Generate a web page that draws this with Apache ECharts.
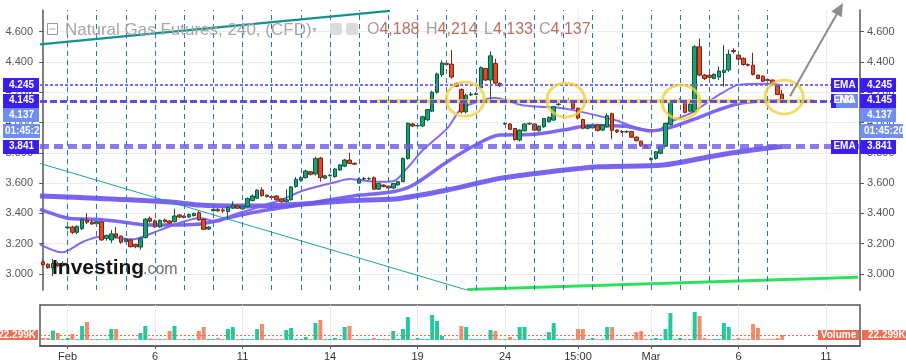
<!DOCTYPE html>
<html><head><meta charset="utf-8">
<script src="https://cdn.jsdelivr.net/npm/echarts@6/dist/echarts.min.js"></script>
<style>html,body{margin:0;padding:0;background:#fff}#c{width:906px;height:361px}</style>
</head><body><div id="c"></div>
<script>
// ---------- data (4h bars, index 0..152) ----------
const barOpen = [
3.080,3.065,3.040,3.068,3.055,3.305,3.310,3.275,3.300,3.356,
3.343,3.332,3.345,3.235,3.225,3.265,3.250,3.213,3.225,3.195,
3.178,3.240,3.368,3.350,3.310,3.357,3.350,3.345,3.390,3.382,
3.376,3.385,3.405,3.360,3.297,3.418,3.425,3.423,3.412,3.435,
3.450,3.430,3.445,3.485,3.500,3.555,3.520,3.510,3.515,3.496,
3.478,3.490,3.578,3.618,3.636,3.675,3.660,3.765,3.632,3.648,
3.643,3.687,3.712,3.752,3.731,3.600,3.627,3.628,3.635,3.560,
3.587,3.580,3.568,3.588,3.610,3.762,3.990,3.978,3.977,4.018,
4.075,4.200,4.315,4.390,4.385,4.258,4.218,4.070,4.182,4.185,
4.230,4.357,4.280,4.390,4.258,3.990,3.990,3.960,3.884,3.945,
3.990,3.990,3.945,3.972,4.005,4.016,4.118,4.135,4.140,4.130,
4.093,4.020,3.962,3.965,3.983,3.950,3.972,4.058,3.950,3.940,
3.938,3.940,3.903,3.877,3.850,3.755,3.762,3.797,3.844,3.985,
4.138,4.140,4.137,4.075,4.070,4.500,4.313,4.312,4.290,4.300,
4.330,4.346,4.475,4.445,4.423,4.382,4.378,4.313,4.306,4.283,
4.280,4.242,4.188];
const barClose = [
3.062,3.042,3.070,3.055,3.070,3.310,3.275,3.315,3.360,3.342,
3.330,3.345,3.225,3.255,3.265,3.245,3.210,3.230,3.180,3.180,
3.235,3.362,3.348,3.312,3.355,3.345,3.336,3.383,3.376,3.372,
3.393,3.400,3.357,3.295,3.310,3.425,3.417,3.417,3.440,3.455,
3.435,3.447,3.498,3.515,3.553,3.518,3.512,3.506,3.490,3.478,
3.490,3.575,3.625,3.636,3.680,3.658,3.762,3.637,3.648,3.652,
3.693,3.720,3.752,3.730,3.725,3.625,3.630,3.630,3.560,3.598,
3.578,3.568,3.597,3.610,3.762,3.995,3.977,3.980,4.038,4.085,
4.200,4.320,4.393,4.383,4.300,4.240,4.070,4.180,4.187,4.190,
4.362,4.280,4.440,4.260,4.242,3.995,3.955,3.888,3.950,3.990,
3.994,3.950,3.976,4.027,4.034,4.104,4.122,4.140,4.137,4.093,
4.030,3.962,3.976,3.980,3.948,3.985,4.045,3.948,3.938,3.938,
3.940,3.903,3.880,3.846,3.830,3.763,3.807,3.843,3.994,4.130,
4.142,4.143,4.067,4.120,4.500,4.313,4.290,4.298,4.318,4.340,
4.345,4.450,4.468,4.418,4.383,4.378,4.317,4.290,4.273,4.278,
4.258,4.185,4.137];
const barLow = [
3.055,3.035,2.985,3.045,3.050,3.295,3.265,3.263,3.290,3.330,
3.325,3.326,3.220,3.220,3.205,3.235,3.200,3.210,3.175,3.170,
3.160,3.235,3.340,3.305,3.305,3.340,3.330,3.340,3.370,3.368,
3.370,3.380,3.350,3.290,3.290,3.413,3.410,3.405,3.360,3.430,
3.430,3.425,3.440,3.480,3.495,3.510,3.505,3.500,3.485,3.470,
3.472,3.485,3.570,3.610,3.630,3.650,3.650,3.610,3.625,3.645,
3.635,3.680,3.705,3.725,3.720,3.595,3.620,3.620,3.555,3.555,
3.572,3.560,3.560,3.583,3.605,3.755,3.970,3.960,3.970,4.010,
4.070,4.190,4.300,4.375,4.290,4.235,4.060,4.060,4.175,4.180,
4.225,4.275,4.150,4.250,4.235,3.985,3.950,3.880,3.875,3.940,
3.985,3.945,3.940,3.965,4.000,4.010,4.110,4.130,4.130,4.090,
4.020,3.955,3.955,3.960,3.940,3.945,3.965,3.890,3.930,3.930,
3.930,3.900,3.875,3.840,3.825,3.750,3.755,3.790,3.840,3.980,
4.130,4.135,4.060,4.070,4.065,4.305,4.280,4.290,4.285,4.280,
4.236,4.335,4.455,4.410,4.375,4.370,4.310,4.285,4.268,4.270,
4.250,4.180,4.133];
const barHigh = [
3.095,3.070,3.100,3.080,3.085,3.328,3.318,3.320,3.365,3.400,
3.356,3.350,3.348,3.260,3.290,3.310,3.255,3.235,3.230,3.200,
3.245,3.370,3.380,3.360,3.360,3.365,3.355,3.430,3.395,3.388,
3.400,3.405,3.420,3.365,3.315,3.430,3.435,3.437,3.445,3.480,
3.455,3.450,3.505,3.525,3.560,3.572,3.525,3.520,3.520,3.500,
3.560,3.580,3.640,3.645,3.690,3.680,3.775,3.772,3.655,3.660,
3.700,3.725,3.760,3.800,3.735,3.635,3.640,3.638,3.645,3.600,
3.592,3.585,3.600,3.615,3.770,4.000,4.000,3.990,4.045,4.090,
4.210,4.330,4.410,4.400,4.478,4.265,4.225,4.190,4.200,4.200,
4.370,4.360,4.470,4.420,4.265,4.000,3.995,3.965,3.955,3.995,
4.000,3.995,3.980,4.030,4.040,4.110,4.135,4.155,4.160,4.150,
4.100,4.025,3.985,3.990,3.990,3.990,4.060,4.065,3.955,3.950,
3.948,3.945,3.910,3.880,3.855,3.770,3.810,3.850,4.000,4.140,
4.155,4.160,4.140,4.140,4.510,4.555,4.320,4.330,4.325,4.370,
4.510,4.480,4.490,4.455,4.430,4.390,4.460,4.315,4.310,4.290,
4.285,4.245,4.214];
// volume in thousands
const volumeK = [
8.9,8.9,41.5,31.2,4.5,8.9,26.8,4.5,62.4,80.3,
4.5,4.5,4.5,4.5,49.1,49.1,4.5,4.5,4.5,4.5,
31.2,62.4,6.7,4.5,4.5,4.5,40.1,62.4,4.5,4.5,
4.5,4.5,40.1,58.0,4.5,4.5,8.9,4.5,49.1,58.0,
4.5,4.5,4.5,4.5,49.1,71.4,4.5,4.5,4.5,4.5,
44.6,53.5,4.5,4.5,13.4,4.5,75.8,89.2,4.5,4.5,
8.9,4.5,58.0,62.4,4.5,4.5,4.5,4.5,8.9,4.5,
4.5,4.5,40.1,4.5,49.1,102.6,4.5,8.9,4.5,4.5,
111.5,84.7,17.8,4.5,4.5,4.5,62.4,58.0,4.5,4.5,
4.5,4.5,44.6,40.1,4.5,4.5,13.4,4.5,58.0,58.0,
4.5,4.5,4.5,4.5,35.7,75.8,4.5,4.5,4.5,4.5,
49.1,49.1,4.5,8.9,4.5,4.5,58.0,58.0,4.5,4.5,
4.5,4.5,35.7,40.1,4.5,4.5,8.9,4.5,49.1,120.4,
4.5,8.9,4.5,4.5,124.9,107.0,8.9,4.5,4.5,4.5,
75.8,58.0,4.5,8.9,4.5,4.5,71.4,53.5,4.5,4.5,
4.5,8.9,22.299];

// moving averages read at sample bars
const fastIdx = [-0.66,3.9,8.2,11.7,15.2,18.5,20.5,24.0,28.8,32.3,35.7,39.0,42.5,46.0,49.3,52.8,56.3,59.6,63.1,65.2,68.6,72.0,74.8,78.1,83.1,86.0,89.4,92.9,95.0,98.3,101.8,105.3,110.0,117.6,124.4,126.5,128.5,131.6,133.7,139.4,143.3,148.9,152];
const fastVal = [3.196,3.143,3.213,3.246,3.240,3.229,3.246,3.290,3.345,3.370,3.345,3.390,3.422,3.460,3.493,3.543,3.576,3.602,3.627,3.620,3.609,3.613,3.697,3.818,3.961,4.093,4.137,4.163,4.148,4.115,4.104,4.100,4.075,4.016,3.950,3.950,3.996,4.040,4.070,4.190,4.250,4.255,4.245];
const midIdx = [-0.66,3.9,5.5,11.7,18.5,21.0,24.0,32.3,39.0,46.0,52.8,59.6,65.2,72.0,76.1,83.1,89.4,93.9,100.1,106.9,112.7,119.7,125.0,128.5,133.7,138.6,143.9,152];
const midVal = [3.427,3.378,3.367,3.360,3.334,3.323,3.323,3.330,3.378,3.422,3.455,3.493,3.521,3.543,3.587,3.741,3.860,3.917,3.920,3.950,3.980,3.975,3.945,3.963,4.020,4.080,4.130,4.145];
const slowIdx = [-0.66,11.7,25.5,32.3,39.0,46.0,52.8,59.6,66.6,73.4,83.1,93.9,104.2,114.5,127.5,137.1,143.3,152];
const slowVal = [3.515,3.499,3.477,3.455,3.449,3.450,3.460,3.477,3.488,3.499,3.554,3.631,3.675,3.708,3.719,3.774,3.807,3.841];

// drawings
const trendTopIdx = [-0.66, 71.3], trendTopPrice = [4.515, 4.737];
const trendDownIdx = [-0.66, 87.2], trendDownPrice = [3.730, 2.894];
const trendGreenIdx = [87.2, 167.6], trendGreenPrice = [2.897, 2.978];
const yellowIdx = [68.2, 158.7], yellowPrice = [4.140, 4.140];
const circleIdx = [86.8, 107.5, 131.2, 152.4], circlePrice = [4.154, 4.148, 4.135, 4.168];
const arrowIdx = [153.6, 164.5], arrowPrice = [4.174, 4.788];

const dayIdx = [5,11,17,23,29,35,41,47,53,59,65,71,77,83,89,95,101,107,113,119,125,131,137,143,149];
const xLabelIdx = [5,23,41,59,77,95,110,125,143,161];
const xLabelText = ['Feb','6','11','14','19','24','15:00','Mar','6','11'];
const priceTicks = [3.0,3.2,3.4,3.6,3.8,4.0,4.2,4.4,4.6];

const emaFastLast = 4.245, emaMidLast = 4.145, emaSlowLast = 3.841;
const lastPrice = 4.137, countdown = '01:45:20', volLast = 22.299;
const header = {title:'Natural Gas Futures, 240, (CFD)', o:'4,188', h:'4,214', l:'4,133', c:'4,137'};

// ---------- chart ----------
const FONT = '"Liberation Sans", Arial, sans-serif';
const UP = '#1f9e74', UPB = '#0b5a3e', DN = '#e04a2a', DNB = '#7e2410';
const chart = echarts.init(document.getElementById('c'), null, {renderer:'canvas'});
const pairs = (a, b) => a.map((x, i) => [x, b[i]]);
const candleData = barOpen.map((o, i) => [i, o, barClose[i], barLow[i], barHigh[i]]);
const volData = volumeK.map((v, i) => [i, v]);
const XMIN = -0.66, XMAX = 168;

const lineS = (data, color, width, z, extra) => Object.assign({
  type:'line', data, xAxisIndex:0, yAxisIndex:0, showSymbol:false, symbol:'none',
  lineStyle:{color, width}, z, silent:true, animation:false
}, extra || {});

const option = {
  animation:false,
  textStyle:{fontFamily:FONT},
  grid:[
    {left:40, right:46, top:10, height:280, outerBoundsMode:'none'},
    {left:40, right:46, top:305, height:41, show:true, borderColor:'#555', borderWidth:1.5, backgroundColor:'transparent', outerBoundsMode:'none'}
  ],
  xAxis:[
    {type:'value', gridIndex:0, min:XMIN, max:XMAX,
     axisLine:{show:false}, axisTick:{show:false, customValues:xLabelIdx},
     axisLabel:{show:false, customValues:xLabelIdx},
     splitLine:{show:true, lineStyle:{color:'#ececec', width:1}}},
    {type:'value', gridIndex:1, min:XMIN, max:XMAX,
     axisLine:{show:true, onZero:false, lineStyle:{color:'#555', width:1.5}},
     axisTick:{show:true, customValues:xLabelIdx, length:3, lineStyle:{color:'#555'}},
     axisLabel:{customValues:xLabelIdx, color:'#333', fontSize:11, margin:5,
       formatter:v => { const k = xLabelIdx.indexOf(Math.round(v)); return k >= 0 ? xLabelText[k] : ''; }},
     splitLine:{show:true, lineStyle:{color:'#ececec', width:1}}}
  ],
  yAxis:[
    {type:'value', gridIndex:0, position:'left', min:2.8945, max:4.7425,
     axisLine:{show:true, lineStyle:{color:'#555', width:1.5}},
     axisTick:{show:true, length:4, customValues:priceTicks, lineStyle:{color:'#555'}},
     axisLabel:{customValues:priceTicks, color:'#555', fontSize:11, margin:7, formatter:v => v.toFixed(3)},
     splitLine:{show:true, lineStyle:{color:'#ececec', width:1}}},
    {type:'value', gridIndex:0, position:'right', min:2.8945, max:4.7425,
     axisLine:{show:true, lineStyle:{color:'#555', width:1.5}},
     axisTick:{show:true, length:4, customValues:priceTicks, lineStyle:{color:'#555'}},
     axisLabel:{customValues:priceTicks, color:'#555', fontSize:11, margin:7, formatter:v => v.toFixed(3)},
     splitLine:{show:false}},
    {type:'value', gridIndex:1, min:-26.8, max:156.1, show:false, splitLine:{show:false}}
  ],
  series:[
    lineS(pairs(slowIdx, slowVal), 'rgba(108,82,238,0.9)', 5, 1, {smooth:0.3}),
    lineS(pairs(midIdx, midVal), 'rgba(112,86,240,0.9)', 3.5, 1, {smooth:0.3}),
    lineS(pairs(fastIdx, fastVal), 'rgba(125,98,242,0.95)', 2, 1, {smooth:0.3}),
    lineS(pairs(trendTopIdx, trendTopPrice), '#13938f', 2.2, 3),
    lineS(pairs(trendDownIdx, trendDownPrice), '#1aa3a3', 1, 3),
    lineS(pairs(trendGreenIdx, trendGreenPrice), '#2fe05c', 3, 3),
    {
      type:'candlestick', xAxisIndex:0, yAxisIndex:0, data:candleData, barWidth:4, z:2,
      itemStyle:{color:UP, color0:DN, borderColor:UPB, borderColor0:DNB, borderWidth:1},
      markLine:{silent:true, symbol:['none','none'], label:{show:false}, animation:false,
        data:[
          ...dayIdx.map(i => ({xAxis:i, lineStyle:{color:'#2d6fca', type:[5,4], width:1}})),
          {yAxis:emaFastLast, lineStyle:{color:'rgba(120,100,240,0.95)', type:[3,2], width:2}},
          {yAxis:emaMidLast, lineStyle:{color:'rgba(85,70,230,0.95)', type:[7,3], width:3}},
          {yAxis:emaSlowLast, lineStyle:{color:'rgba(110,90,240,0.8)', type:[9,5], width:5}}
        ]}
    },
    lineS(pairs(yellowIdx, yellowPrice), 'rgba(243,212,70,0.92)', 4, 4),
    {
      type:'scatter', xAxisIndex:0, yAxisIndex:0, data:pairs(circleIdx, circlePrice), z:5,
      symbol:'circle', symbolSize:[38,34], silent:true,
      itemStyle:{color:'rgba(0,0,0,0)', borderColor:'#f2d23c', borderWidth:3}
    },
    {
      type:'bar', xAxisIndex:1, yAxisIndex:2, data:volData, barWidth:4, silent:true,
      itemStyle:{color:p => barClose[p.dataIndex] >= barOpen[p.dataIndex] ? '#20c9a0' : '#f48b6d'},
      markLine:{silent:true, symbol:['none','none'], label:{show:false}, animation:false,
        data:[{yAxis:volLast, lineStyle:{color:'#e8704f', type:[2,2], width:1}}]}
    }
  ]
};
chart.setOption(option);

// ---------- overlay labels / drawings ----------
const py = v => chart.convertToPixel({yAxisIndex:0}, v);
const pxy = (i, p) => chart.convertToPixel({xAxisIndex:0, yAxisIndex:0}, [i, p]);
const DARK = '#3a1ef0', LIGHT = '#6f8ef2', SAL = '#f26d4f';
const g = [];
function tag(x, yc, w, h, fill, text, align, tx, fs, extra) {
  g.push({type:'rect', z:100, silent:true, shape:{x, y:Math.round(yc - h/2), width:w, height:h}, style:{fill}});
  g.push({type:'text', z:101, silent:true, style:Object.assign({text, x:tx, y:yc, fill:'#fff',
    font:'bold ' + fs + 'px ' + FONT, textAlign:align, textVerticalAlign:'middle'}, extra || {})});
}
const rows = [
  {v:emaFastLast, fill:DARK, tag:'EMA'},
  {v:emaMidLast, fill:DARK, tag:'EMA', tag2:'NG'},
  {v:lastPrice, fill:LIGHT},
  {text:countdown, fill:LIGHT, cd:true},
  {v:emaSlowLast, fill:DARK, tag:'EMA'}
];
let prev = -1e9;
rows.forEach(r => {
  const y = r.cd ? prev + 16 : Math.max(py(r.v), prev + 14.5);
  prev = y;
  const t = r.cd ? r.text : r.v.toFixed(3);
  if (r.cd) {
    tag(3, y, 37, 14, r.fill, t, 'left', 5, 10, {width:38, overflow:'truncate', ellipsis:''});
    tag(860, y, 43, 14, r.fill, t, 'left', 864, 10);
  } else {
    tag(3, y, 36, 14, r.fill, t, 'right', 34, 10);
    if (r.tag) tag(831, y, 27, 14, DARK, r.tag, 'center', 844.5, 10);
    if (r.tag2) tag(836, y, 22, 14, LIGHT, r.tag2, 'center', 847, 10);
    tag(860, y, 36, 14, r.fill, t, 'left', 867, 10);
  }
});
const yv = chart.convertToPixel({yAxisIndex:2}, volLast);
const vt = volLast.toFixed(3) + 'K';
tag(0, yv, 38, 10, SAL, vt, 'right', 36, 10);
tag(818, yv, 41, 10, SAL, 'Volume', 'center', 838.5, 10);
tag(862, yv, 44, 10, SAL, vt, 'left', 868, 10);

// arrow
const a0 = pxy(arrowIdx[0], arrowPrice[0]), a1 = pxy(arrowIdx[1], arrowPrice[1]);
const dx = a1[0] - a0[0], dy = a1[1] - a0[1], L = Math.hypot(dx, dy), ux = dx / L, uy = dy / L;
const hl = 13, hw = 6, nx = -uy, ny = ux;
g.push({type:'line', z:100, silent:true, shape:{x1:a0[0], y1:a0[1], x2:a1[0] - ux*hl*0.6, y2:a1[1] - uy*hl*0.6}, style:{stroke:'#8c8c8c', lineWidth:2}});
g.push({type:'polygon', z:100, silent:true, shape:{points:[[a1[0], a1[1]], [a1[0] - ux*hl + nx*hw, a1[1] - uy*hl + ny*hw], [a1[0] - ux*hl - nx*hw, a1[1] - uy*hl - ny*hw]]}, style:{fill:'#8c8c8c'}});

// header
g.push({type:'rect', z:100, silent:true, shape:{x:47.5, y:23.5, width:10, height:11}, style:{fill:'#fff', stroke:'#9a9a9a', lineWidth:1}});
g.push({type:'line', z:101, silent:true, shape:{x1:49.5, y1:29, x2:55.5, y2:29}, style:{stroke:'#9a9a9a', lineWidth:1}});
g.push({type:'text', z:100, silent:true, style:{text:header.title, x:65, y:30, fill:'#a6a6a6', font:'17px ' + FONT, textVerticalAlign:'middle'}});
g.push({type:'text', z:100, silent:true, style:{text:'▾', x:312, y:30, fill:'#bbb', font:'10px ' + FONT, textVerticalAlign:'middle'}});
g.push({type:'rect', z:100, silent:true, shape:{x:330, y:23, width:12, height:12, r:2}, style:{fill:'#dcdcdc'}});
g.push({type:'rect', z:100, silent:true, shape:{x:346, y:23, width:12, height:12, r:2}, style:{fill:'#dcdcdc'}});
[['O', header.o, 367], ['H', header.h, 426], ['L', header.l, 484], ['C', header.c, 539]].forEach(([k, v, x]) => {
  g.push({type:'text', z:100, silent:true, style:{text:'{a|' + k + '}{b|' + v + '}', x, y:30, textVerticalAlign:'middle',
    rich:{a:{fill:'#a0a0a0', font:'16px ' + FONT}, b:{fill:'#b7725f', font:'16px ' + FONT}}}});
});
// logo
g.push({type:'text', z:100, silent:true, style:{text:'Investing', x:52, y:268, fill:'#151515', font:'bold 21px ' + FONT, textVerticalAlign:'middle'}});
g.push({type:'text', z:100, silent:true, style:{text:'.com', x:143, y:270, fill:'#707070', font:'16px ' + FONT, textVerticalAlign:'middle'}});

chart.setOption({graphic:{elements:g}});
</script></body></html>
